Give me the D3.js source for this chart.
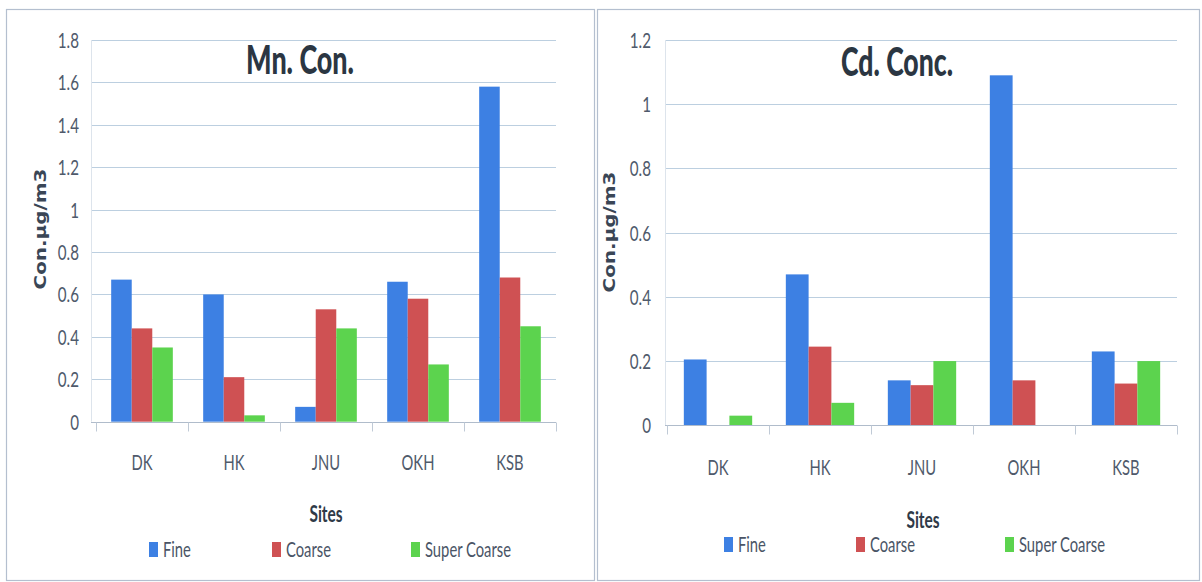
<!DOCTYPE html>
<html>
<head>
<meta charset="utf-8">
<script src="https://cdn.jsdelivr.net/npm/d3@7"></script>
<style>
  body { margin: 0; background: #ffffff; }
  svg { display: block; }
  .narrow { font-family: Lato, "Open Sans", "DejaVu Sans", sans-serif; }
</style>
</head>
<body>
<svg id="chart" width="1202" height="582"></svg>
<script>
// ---- data ----
const sites = ["DK", "HK", "JNU", "OKH", "KSB"];
const seriesNames = ["Fine", "Coarse", "Super Coarse"];
const seriesColors = ["#3d80e3", "#cf5153", "#5cd34e"];

const mnFine = [0.67, 0.60, 0.07, 0.66, 1.58];
const mnCoarse = [0.44, 0.21, 0.53, 0.58, 0.68];
const mnSuperCoarse = [0.35, 0.03, 0.44, 0.27, 0.45];
const mnTicks = [0, 0.2, 0.4, 0.6, 0.8, 1, 1.2, 1.4, 1.6, 1.8];
const mnTickLabels = ["0", "0.2", "0.4", "0.6", "0.8", "1", "1.2", "1.4", "1.6", "1.8"];

const cdFine = [0.205, 0.47, 0.14, 1.09, 0.23];
const cdCoarse = [0, 0.245, 0.125, 0.14, 0.13];
const cdSuperCoarse = [0.03, 0.07, 0.2, 0, 0.2];
const cdTicks = [0, 0.2, 0.4, 0.6, 0.8, 1, 1.2];
const cdTickLabels = ["0", "0.2", "0.4", "0.6", "0.8", "1", "1.2"];

const yTitle = "Con.\u00b5g/m3";
const xTitle = "Sites";

// ---- layout ----
const svg = d3.select("#chart");
const FS = 21;

// calibrate horizontal squeeze so that "Super Coarse" is ~86px wide
const probe = svg.append("text").attr("class", "narrow").attr("font-size", FS).text("Super Coarse");
const COND = 86 / probe.node().getComputedTextLength();
probe.remove();

const panels = [
  {
    title: "Mn. Con.", series: [mnFine, mnCoarse, mnSuperCoarse],
    ticks: mnTicks, tickLabels: mnTickLabels, yMax: 1.8,
    box: [6.5, 9.5, 594.5, 580.5],
    xRange: [96, 556], yRange: [421.7, 40], gridX0: 91,
    tickX: 79, catY: 470, titleX: 300, titleY: 74, titleW: 108,
    yTitleX: 46, yTitleY: 229, sitesX: 326, sitesY: 522,
    legY: 542, legSq: [149, 272, 411]
  },
  {
    title: "Cd. Conc.", series: [cdFine, cdCoarse, cdSuperCoarse],
    ticks: cdTicks, tickLabels: cdTickLabels, yMax: 1.2,
    box: [597.5, 9.5, 1199.5, 580.5],
    xRange: [667, 1177], yRange: [425.3, 40], gridX0: 665,
    tickX: 651, catY: 475, titleX: 897, titleY: 76, titleW: 112,
    yTitleX: 615, yTitleY: 232, sitesX: 923, sitesY: 528,
    legY: 537, legSq: [724, 856, 1005]
  }
];

function squeeze(sel, f) {
  const k = f || COND;
  sel.each(function () {
    const w = this.getComputedTextLength();
    d3.select(this).attr("textLength", w * k).attr("lengthAdjust", "spacingAndGlyphs");
  });
}

panels.forEach(p => {
  const g = svg.append("g");
  // panel border
  g.append("rect")
    .attr("x", p.box[0]).attr("y", p.box[1])
    .attr("width", p.box[2] - p.box[0]).attr("height", p.box[3] - p.box[1])
    .attr("fill", "#ffffff").attr("stroke", "#b4bfcf").attr("stroke-width", 1.2);

  const x0 = d3.scaleBand().domain(sites).range(p.xRange).paddingInner(0).paddingOuter(0);
  const groupW = x0.step() * 0.67;
  const x1 = d3.scaleBand().domain(d3.range(seriesNames.length)).range([0, groupW]);
  const y = d3.scaleLinear().domain([0, p.yMax]).range(p.yRange);

  // gridlines
  g.append("g").selectAll("line").data(p.ticks.filter(t => t > 0)).join("line")
    .attr("x1", p.gridX0).attr("x2", p.xRange[1])
    .attr("y1", d => Math.round(y(d)) + 0.5).attr("y2", d => Math.round(y(d)) + 0.5)
    .attr("stroke", "#bccfe0").attr("stroke-width", 1.2);

  // vertical axis line (faint)
  g.append("line")
    .attr("x1", p.gridX0 + 0.5).attr("x2", p.gridX0 + 0.5)
    .attr("y1", y(p.yMax)).attr("y2", y(0))
    .attr("stroke", "#dde4ec").attr("stroke-width", 1);

  // y tick labels
  g.append("g").selectAll("text").data(p.ticks).join("text")
    .attr("class", "narrow")
    .attr("x", p.tickX).attr("y", d => y(d))
    .attr("dy", "0.36em")
    .attr("text-anchor", "end")
    .attr("font-size", FS + 1)
    .attr("fill", "#4f5a6b")
    .text((d, i) => p.tickLabels[i])
    .call(squeeze, COND * 0.98);

  // bars
  const groups = g.append("g").selectAll("g").data(sites).join("g")
    .attr("transform", d => `translate(${x0(d) + (x0.step() - groupW) / 2},0)`);
  groups.selectAll("rect")
    .data((d, i) => p.series.map((s, k) => ({ k, v: s[i] })))
    .join("rect")
    .attr("x", d => x1(d.k))
    .attr("width", x1.bandwidth())
    .attr("y", d => y(d.v))
    .attr("height", d => y(0) - y(d.v))
    .attr("fill", d => seriesColors[d.k]);

  // x axis (zero line) with boundary ticks
  const zy = Math.round(y(0)) + 0.5;
  g.append("line")
    .attr("x1", p.gridX0).attr("x2", p.xRange[1])
    .attr("y1", zy).attr("y2", zy)
    .attr("stroke", "#b0bccb").attr("stroke-width", 1.2);
  const bounds = sites.map(s => x0(s)).concat([p.xRange[1]]);
  g.append("g").selectAll("line").data(bounds).join("line")
    .attr("x1", d => Math.round(d) + 0.5).attr("x2", d => Math.round(d) + 0.5)
    .attr("y1", zy).attr("y2", zy + 9)
    .attr("stroke", "#c0cad6").attr("stroke-width", 1);

  // category labels
  g.append("g").selectAll("text").data(sites).join("text")
    .attr("class", "narrow")
    .attr("x", d => x0(d) + x0.step() / 2)
    .attr("y", p.catY)
    .attr("text-anchor", "middle")
    .attr("font-size", FS)
    .attr("fill", "#4f5a6b")
    .text(d => d)
    .call(squeeze);

  // title
  g.append("text")
    .attr("class", "narrow")
    .attr("x", p.titleX).attr("y", p.titleY)
    .attr("text-anchor", "middle")
    .attr("font-size", 39).attr("font-weight", "900")
    .attr("fill", "#2b3642")
    .attr("textLength", p.titleW).attr("lengthAdjust", "spacingAndGlyphs")
    .text(p.title);

  // y axis title
  g.append("text")
    .attr("transform", `translate(${p.yTitleX},${p.yTitleY}) rotate(-90)`)
    .attr("text-anchor", "middle")
    .attr("font-family", "'DejaVu Sans', Verdana, sans-serif")
    .attr("font-size", 16).attr("font-weight", "bold")
    .attr("fill", "#3a4656")
    .attr("textLength", 121).attr("lengthAdjust", "spacingAndGlyphs")
    .text(yTitle);

  // x axis title
  g.append("text")
    .attr("class", "narrow")
    .attr("x", p.sitesX).attr("y", p.sitesY)
    .attr("text-anchor", "middle")
    .attr("font-size", FS + 1).attr("font-weight", "bold")
    .attr("fill", "#2f3a48")
    .text(xTitle)
    .call(squeeze);

  // legend
  const leg = g.append("g");
  seriesNames.forEach((name, k) => {
    leg.append("rect")
      .attr("x", p.legSq[k]).attr("y", p.legY)
      .attr("width", 9).attr("height", 15)
      .attr("fill", seriesColors[k]);
    leg.append("text")
      .attr("class", "narrow")
      .attr("x", p.legSq[k] + 14).attr("y", p.legY + 15)
      .attr("font-size", FS)
      .attr("fill", "#4a5566")
      .text(name)
      .call(squeeze);
  });
});
</script>
</body>
</html>
